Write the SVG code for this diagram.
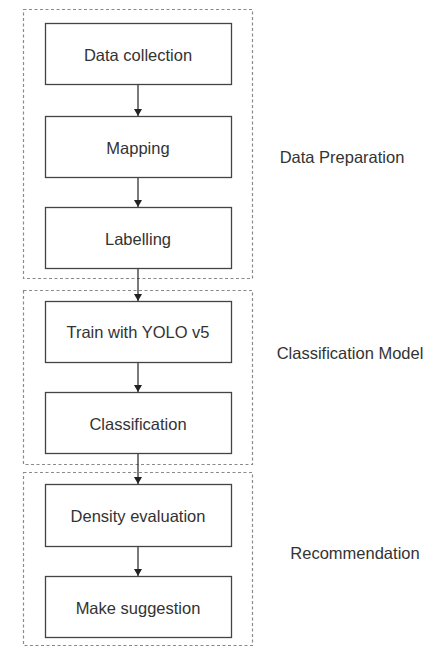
<svg xmlns="http://www.w3.org/2000/svg" width="433" height="648" viewBox="0 0 433 648">
<style>
.grp{fill:none;stroke:#8a8a8a;stroke-width:1.2;stroke-dasharray:3 2.5}
.box{fill:#fff;stroke:#444;stroke-width:1.3}
.t{font-family:"Liberation Sans",Arial,sans-serif;font-size:16.5px;fill:#333;text-anchor:middle;dominant-baseline:central}
.edge{stroke:#222;stroke-width:1.2;fill:none;marker-end:url(#ah)}
</style>
<defs>
<marker id="ah" markerWidth="8" markerHeight="9" refX="7" refY="4.5" orient="auto" markerUnits="userSpaceOnUse">
<path d="M0,0.5 L7,4.5 L0,8.5 Z" fill="#222"/>
</marker>
</defs>
<rect width="433" height="648" fill="#fff"/>
<g id="group-data-preparation">
<rect class="grp" x="23.5" y="9.5" width="229" height="269"/>
<text class="t" x="342" y="157">Data Preparation</text>
</g>
<g id="group-classification-model">
<rect class="grp" x="23.5" y="290.5" width="229" height="174"/>
<text class="t" x="350" y="353">Classification Model</text>
</g>
<g id="group-recommendation">
<rect class="grp" x="23.5" y="472.5" width="229" height="173"/>
<text class="t" x="355" y="553">Recommendation</text>
</g>
<g id="connectors">
<line class="edge" x1="138" y1="84" x2="138" y2="116"/>
<line class="edge" x1="138" y1="177" x2="138" y2="207"/>
<line class="edge" x1="138" y1="268" x2="138" y2="301"/>
<line class="edge" x1="138" y1="362" x2="138" y2="392"/>
<line class="edge" x1="138" y1="453" x2="138" y2="484"/>
<line class="edge" x1="138" y1="547" x2="138" y2="576"/>
</g>
<g id="node-data-collection">
<rect class="box" x="45.5" y="23.5" width="186" height="61"/>
<text class="t" x="138" y="55">Data collection</text>
</g>
<g id="node-mapping">
<rect class="box" x="45.5" y="116.5" width="186" height="61"/>
<text class="t" x="138" y="148">Mapping</text>
</g>
<g id="node-labelling">
<rect class="box" x="45.5" y="207.5" width="186" height="61"/>
<text class="t" x="138" y="239">Labelling</text>
</g>
<g id="node-train">
<rect class="box" x="45.5" y="301.5" width="186" height="61"/>
<text class="t" x="138" y="332">Train with YOLO v5</text>
</g>
<g id="node-classification">
<rect class="box" x="45.5" y="392.5" width="186" height="61"/>
<text class="t" x="138" y="424">Classification</text>
</g>
<g id="node-density">
<rect class="box" x="45.5" y="484.5" width="186" height="62"/>
<text class="t" x="138" y="516">Density evaluation</text>
</g>
<g id="node-suggestion">
<rect class="box" x="45.5" y="576.5" width="186" height="61"/>
<text class="t" x="138" y="608">Make suggestion</text>
</g>
</svg>
